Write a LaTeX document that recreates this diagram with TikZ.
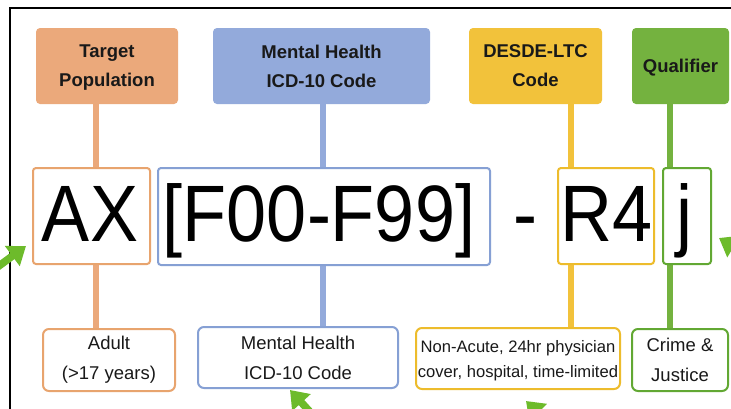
\documentclass[tikz,border=0pt]{standalone}
\usepackage{fontspec}
\setmainfont{Liberation Sans}
\newfontfamily\codefont[FakeStretch=0.9]{Liberation Sans}
\usetikzlibrary{arrows.meta,backgrounds}
\definecolor{orf}{HTML}{EBA97B}
\definecolor{orl}{HTML}{E8A46E}
\definecolor{blf}{HTML}{93AADB}
\definecolor{bll}{HTML}{86A0D4}
\definecolor{yef}{HTML}{F2C23B}
\definecolor{yel}{HTML}{EDBC2C}
\definecolor{grf}{HTML}{74B23F}
\definecolor{grl}{HTML}{62A833}
\definecolor{arr}{HTML}{6DBB2B}
\tikzset{
  headbox/.style={rounded corners=4pt, minimum height=76pt, align=center, inner sep=0pt,
    text depth=0pt, font=\fontsize{18.5}{29}\selectfont\bfseries, text=black!90},
  codebox/.style={draw, line width=2pt, rounded corners=3pt, fill=white, inner sep=0pt},
  codetext/.style={font=\codefont\fontsize{80}{80}\selectfont, inner sep=0pt, anchor=base},
  descbox/.style={draw, line width=2pt, rounded corners=6pt, fill=white, align=center, inner sep=0pt,
    font=\fontsize{18.5}{30}\selectfont, text=black!90},
  link/.style={line width=6pt},
  greenarrow/.style={arr, line width=7.5pt, -{Triangle[length=17pt,width=24pt]}}
}
\begin{document}
\begin{tikzpicture}[x=1pt,y=-1pt]
\useasboundingbox (0,0) rectangle (731,408);
\clip (0,0) rectangle (731,408);
\begin{scope}[on background layer]
\fill[white] (0,0) rectangle (731,408);
\end{scope}
\draw[line width=2pt] (9.5,420) -- (9.5,7.5) -- (740,7.5);

% top header boxes
\node[headbox, fill=orf, minimum width=142pt] (tp) at (107,66) {Target\\Population};
\node[headbox, fill=blf, minimum width=217pt] (mh) at (321.5,66) {Mental Health\\ICD-10 Code};
\node[headbox, fill=yef, minimum width=133pt] (ds) at (535.5,66) {DESDE-LTC\\Code};
\node[headbox, fill=grf, minimum width=97pt] (ql) at (680.5,66) {Qualifier};

% code boxes
\node[codebox, draw=orl, minimum width=117pt, minimum height=96pt] (ax) at (91.5,216) {};
\node[codebox, draw=bll, minimum width=332pt, minimum height=97pt] (icd) at (324,216.5) {};
\node[codebox, draw=yel, minimum width=96pt, minimum height=96pt] (r4) at (606,216) {};
\node[codebox, draw=grl, minimum width=48pt, minimum height=96pt] (jq) at (687,216) {};
\node[codetext] (axt) at (90,241) {AX};
\node[codetext] (icdt) at (319,241) {[F00-F99]};
\node[codetext] (dasht) at (525,241) {-};
\node[codetext] (r4t) at (607,241) {R4};
\node[codetext] (jt) at (684,241) {j};

% description boxes
\node[descbox, draw=orl, minimum width=132pt, minimum height=62pt] (ad) at (109,360) {Adult\\(>17 years)};
\node[descbox, draw=bll, minimum width=200pt, minimum height=61pt] (mhd) at (298,357.5) {Mental Health\\ICD-10 Code};
\node[descbox, draw=yel, minimum width=204pt, minimum height=61pt, text depth=0pt,
      font=\fontsize{16.6}{25}\selectfont] (na) at (518,358.5) {Non-Acute, 24hr physician\\cover, hospital, time-limited};
\node[descbox, draw=grl, minimum width=96pt, minimum height=62pt] (cj) at (680,360) {Crime \&\\Justice};

% connectors
\coordinate (xo) at (96,0);
\coordinate (xb) at (323,0);
\coordinate (xy) at (571,0);
\coordinate (xg) at (670,0);
\begin{scope}[on background layer]
\draw[link, orf] (tp.south -| xo) -- (ax.north -| xo);
\draw[link, orf] (ax.south -| xo) -- (ad.north -| xo);
\draw[link, blf] (mh.south -| xb) -- (icd.north -| xb);
\draw[link, blf] (icd.south -| xb) -- (mhd.north -| xb);
\draw[link, yef] (ds.south -| xy) -- (r4.north -| xy);
\draw[link, yef] (r4.south -| xy) -- (na.north -| xy);
\draw[link, grf] (ql.south -| xg) -- (jq.north -| xg);
\draw[link, grf] (jq.south -| xg) -- (cj.north -| xg);
\end{scope}

% green arrow fragments
\coordinate (a1s) at (-12,274);
\coordinate (a1e) at (26,246);
\coordinate (a2s) at (322,425);
\coordinate (a2e) at (290,390);
\coordinate (a3s) at (560,434);
\coordinate (a3e) at (526,401);
\coordinate (a4s) at (770,268);
\coordinate (a4e) at (719,238);
\draw[greenarrow] (a1s) -- (a1e);
\draw[greenarrow] (a2s) -- (a2e);
\draw[greenarrow] (a3s) -- (a3e);
\draw[greenarrow] (a4s) -- (a4e);
\end{tikzpicture}
\end{document}
